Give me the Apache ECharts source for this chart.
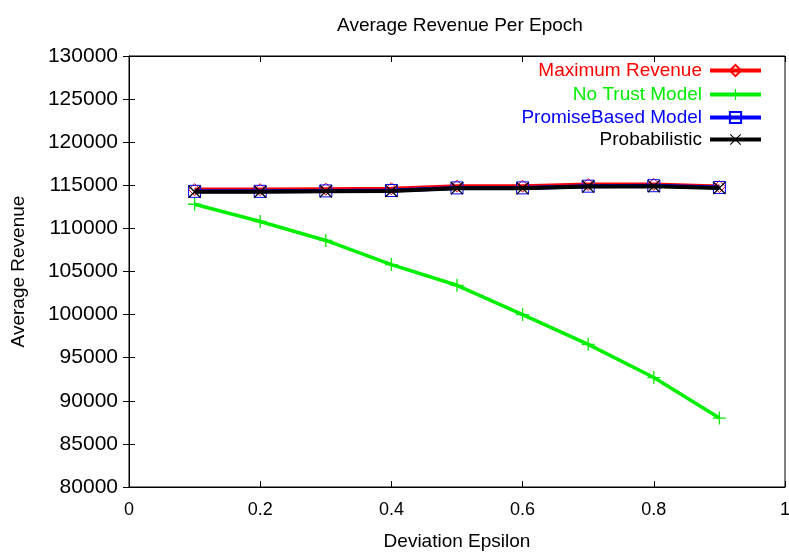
<!DOCTYPE html>
<html>
<head>
<meta charset="utf-8">
<script src="https://cdn.jsdelivr.net/npm/echarts@6/dist/echarts.min.js"></script>
<style>
  html, body { margin: 0; padding: 0; background: #ffffff; }
  #chart { width: 789px; height: 552px; }
</style>
</head>
<body>
<div id="chart"></div>
<script>
// Deviation epsilon on the x axis
const epsilon = [0.1, 0.2, 0.3, 0.4, 0.5, 0.6, 0.7, 0.8, 0.9];

// Average revenue per epoch for each model
const maxRevenue     = [114500, 114500, 114550, 114600, 114900, 114900, 115100, 115100, 114850];
const noTrustModel   = [112800, 110800, 108600, 105800, 103400, 100000, 96550, 92700, 88000];
const promiseBased   = [114300, 114300, 114350, 114400, 114700, 114700, 114900, 114950, 114750];
const probabilistic  = [114250, 114250, 114300, 114350, 114650, 114650, 114850, 114900, 114700];

// Axis ticks
const xTicks = { min: 0, max: 1, step: 0.2 };
const yTicks = { min: 80000, max: 130000, step: 5000 };

const seriesNames = ['Maximum Revenue', 'No Trust Model', 'PromiseBased Model', 'Probabilistic'];
const seriesColors = ['#ff0000', '#00ee00', '#0000ff', '#000000'];
const lineWidths = [4, 3.5, 4, 4];

const FONT = '"Liberation Sans", Arial, sans-serif';

const plusPath = 'path://M4.5,0H5.5V4.5H10V5.5H5.5V10H4.5V5.5H0V4.5H4.5Z';
const crossPath = 'path://M0,0.7L0.7,0L10,9.3L9.3,10Z M9.3,0L10,0.7L0.7,10L0,9.3Z';

function pairs(values) {
  return epsilon.map((x, i) => [x, values[i]]);
}

function lineSeries(idx, values, symbol, symbolSize, hollow) {
  const color = seriesColors[idx];
  return {
    name: seriesNames[idx],
    type: 'line',
    data: pairs(values),
    symbol: symbol,
    symbolSize: symbolSize,
    showSymbol: true,
    color: color,
    lineStyle: { color: color, width: lineWidths[idx] },
    itemStyle: hollow
      ? { color: 'rgba(0,0,0,0)', borderColor: color, borderWidth: 1 }
      : { color: color, borderWidth: 0 },
    emphasis: { disabled: true },
    animation: false,
    z: 2 + idx
  };
}

// One legend per entry so that the entries line up on their right edge
const legendRows = [70, 94, 117, 139];
const legends = seriesNames.map((name, i) => ({
  orient: 'vertical',
  right: 26,
  top: legendRows[i] - 9,
  padding: 0,
  align: 'right',
  itemWidth: 51,
  itemHeight: 14,
  selectedMode: false,
  lineStyle: { width: 4 },
  textStyle: { fontFamily: FONT, fontSize: 19, color: seriesColors[i], padding: [0, 3, 0, 0] },
  data: [{ name: name, textStyle: { color: seriesColors[i] } }]
}));

const axisLineStyle = { show: true, lineStyle: { color: '#000000', width: 1 } };
const tickStyle = { show: true, inside: true, length: 6, lineStyle: { color: '#000000' } };

const option = {
  backgroundColor: '#ffffff',
  animation: false,
  title: {
    text: 'Average Revenue Per Epoch',
    left: 455,
    textAlign: 'center',
    top: 11,
    textStyle: { fontFamily: FONT, fontSize: 19, fontWeight: 'normal', color: '#000000' }
  },
  legend: legends,
  grid: {
    left: 129, right: 4, top: 56, bottom: 65,
    outerBoundsMode: 'none', containLabel: false,
    show: true, borderColor: '#000000', borderWidth: 1, backgroundColor: 'transparent'
  },
  xAxis: [
    {
      type: 'value', position: 'bottom',
      min: xTicks.min, max: xTicks.max, interval: xTicks.step,
      name: 'Deviation Epsilon', nameLocation: 'middle', nameGap: 45,
      nameTextStyle: { fontFamily: FONT, fontSize: 19, color: '#000000' },
      axisLine: axisLineStyle, axisTick: tickStyle,
      axisLabel: { fontFamily: FONT, fontSize: 18, color: '#000000', margin: 14 },
      splitLine: { show: false }
    },
    {
      type: 'value', position: 'top',
      min: xTicks.min, max: xTicks.max, interval: xTicks.step,
      axisLine: axisLineStyle, axisTick: tickStyle,
      axisLabel: { show: false }, splitLine: { show: false }
    }
  ],
  yAxis: [
    {
      type: 'value', position: 'left',
      min: yTicks.min, max: yTicks.max, interval: yTicks.step,
      name: 'Average Revenue', nameLocation: 'middle', nameGap: 101,
      nameTextStyle: { fontFamily: FONT, fontSize: 19, color: '#000000' },
      axisLine: axisLineStyle, axisTick: tickStyle,
      axisLabel: { fontFamily: FONT, fontSize: 21, color: '#000000', margin: 11, formatter: v => String(v) },
      splitLine: { show: false }
    },
    {
      type: 'value', position: 'right',
      min: yTicks.min, max: yTicks.max, interval: yTicks.step,
      axisLine: axisLineStyle, axisTick: tickStyle,
      axisLabel: { show: false }, splitLine: { show: false }
    }
  ],
  series: [
    lineSeries(0, maxRevenue, 'diamond', 12, true),
    lineSeries(1, noTrustModel, plusPath, 13, false),
    lineSeries(2, promiseBased, 'rect', 12, true),
    lineSeries(3, probabilistic, crossPath, 13, false)
  ]
};

const chart = echarts.init(document.getElementById('chart'), null, { renderer: 'canvas' });
chart.setOption(option);
</script>
</body>
</html>
